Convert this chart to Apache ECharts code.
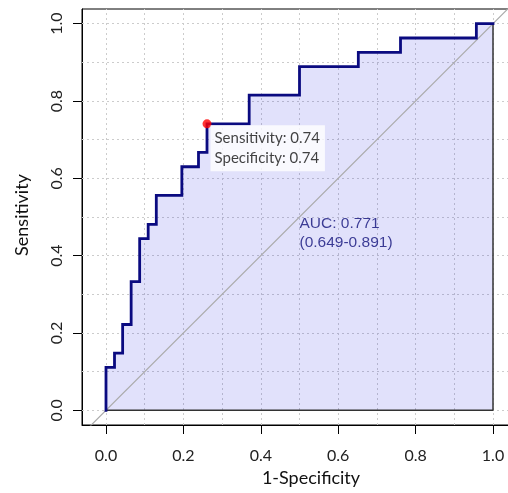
<!DOCTYPE html>
<html>
<head>
<meta charset="utf-8">
<script src="https://cdn.jsdelivr.net/npm/echarts@6/dist/echarts.min.js"></script>
<style>
  html, body { margin: 0; padding: 0; background: #fff; }
  #chart { width: 508px; height: 493px; }
</style>
</head>
<body>
<div id="chart"></div>
<script>
// ROC curve vertices (1 - specificity, sensitivity)
const fpr = [0, 0, 0.022, 0.022, 0.043, 0.043, 0.065, 0.065, 0.087, 0.087, 0.109, 0.109,
             0.130, 0.130, 0.196, 0.196, 0.239, 0.239, 0.261, 0.261, 0.370, 0.370,
             0.500, 0.500, 0.652, 0.652, 0.761, 0.761, 0.957, 0.957, 1];
const tpr = [0, 0.111, 0.111, 0.148, 0.148, 0.222, 0.222, 0.333, 0.333, 0.444, 0.444, 0.481,
             0.481, 0.556, 0.556, 0.630, 0.630, 0.667, 0.667, 0.741, 0.741, 0.815,
             0.815, 0.889, 0.889, 0.926, 0.926, 0.963, 0.963, 1, 1];

// Best threshold
const bestSens = 0.741;
const bestSpec = 0.739;

// AUC with confidence interval
const auc = 0.771;
const aucLow = 0.649;
const aucHigh = 0.891;

// Axis ticks and grid lines
const tickValues = [0, 0.2, 0.4, 0.6, 0.8, 1.0];
const gridValues = [0, 0.1, 0.2, 0.3, 0.4, 0.5, 0.6, 0.7, 0.8, 0.9, 1.0];

const chart = echarts.init(document.getElementById('chart'));

const rocPoints = fpr.map((x, i) => [x, tpr[i]]);
const labelFont = 'Lato, "Open Sans", sans-serif';

const gridLineStyle = { color: '#cccccc', width: 1, type: [2, 3] };
const gridMarks = gridValues.map(v => ({ xAxis: v }))
  .concat(gridValues.map(v => ({ yAxis: v })));

chart.setOption({
  animation: false,
  backgroundColor: '#ffffff',
  grid: {
    // plot region runs past the right edge of the canvas
    left: 82, top: 9, width: 435, height: 416,
    outerBoundsMode: 'none', containLabel: false,
    show: true, borderColor: '#000', borderWidth: 1, backgroundColor: 'transparent'
  },
  xAxis: {
    type: 'value', min: -0.062, max: 1.062,
    splitLine: { show: false },
    axisLine: { show: true, onZero: false, lineStyle: { color: '#000', width: 1 } },
    axisTick: { show: true, length: 9, customValues: tickValues, lineStyle: { color: '#000' } },
    axisLabel: {
      customValues: tickValues, margin: 23, fontSize: 16, color: '#222', fontFamily: labelFont,
      formatter: v => v.toFixed(1)
    }
  },
  yAxis: {
    type: 'value', min: -0.038, max: 1.038,
    splitLine: { show: false },
    axisLine: { show: true, onZero: false, lineStyle: { color: '#000', width: 1 } },
    axisTick: { show: true, length: 9, customValues: tickValues, lineStyle: { color: '#000' } },
    axisLabel: {
      customValues: tickValues, margin: 17, rotate: 90, fontSize: 16, color: '#222', fontFamily: labelFont,
      formatter: v => v.toFixed(1)
    }
  },
  graphic: [
    {
      type: 'text', x: 311, y: 478,
      style: { text: '1-Specificity', fontSize: 18, fontFamily: labelFont, fill: '#111',
               align: 'center', verticalAlign: 'middle' }
    },
    {
      type: 'text', x: 22, y: 215, rotation: Math.PI / 2,
      style: { text: 'Sensitivity', fontSize: 18, fontFamily: labelFont, fill: '#111',
               align: 'center', verticalAlign: 'middle' }
    }
  ],
  series: [
    {
      // dotted reference grid
      name: 'grid', type: 'line', data: [], z: 1, silent: true,
      markLine: {
        z: 1, silent: true, symbol: 'none', label: { show: false },
        lineStyle: gridLineStyle, data: gridMarks, animation: false
      }
    },
    {
      // shaded area under the curve
      name: 'auc area', type: 'line', data: rocPoints, z: 2, symbol: 'none', silent: true,
      lineStyle: { width: 0 },
      areaStyle: { color: 'rgba(0,0,225,0.17)', origin: 'auto' }
    },
    {
      // chance diagonal
      name: 'chance', type: 'line', data: [[-0.2, -0.2], [1.2, 1.2]], z: 3, symbol: 'none',
      silent: true, clip: true,
      lineStyle: { color: '#aaaaaa', width: 1.2 }
    },
    {
      // outline of the area polygon
      name: 'area border', type: 'line', data: [[0, 0], [1, 0], [1, 1]], z: 4, symbol: 'none',
      silent: true, lineStyle: { color: '#333333', width: 1.5, type: 'solid' }
    },
    {
      name: 'ROC', type: 'line', data: rocPoints, z: 5, symbol: 'none', silent: true,
      lineStyle: { color: '#0a0a80', width: 2.8, join: 'miter', cap: 'square' }
    },
    {
      name: 'best threshold', type: 'scatter', z: 6, silent: true,
      data: [[1 - bestSpec, bestSens]],
      symbol: 'circle', symbolSize: 9,
      itemStyle: { color: '#ff0000' },
      label: {
        show: true, position: [8, 6],
        formatter: () => 'Sensitivity: ' + bestSens.toFixed(2) + '\nSpecificity: ' + bestSpec.toFixed(2),
        backgroundColor: '#ffffff', padding: [3, 5, 3, 4],
        fontSize: 15, lineHeight: 20, color: '#111', fontFamily: labelFont,
        align: 'left', verticalAlign: 'top'
      }
    },
    {
      name: 'auc text', type: 'scatter', z: 6, silent: true,
      data: [[0.5, 0.5]], symbolSize: 0.001,
      label: {
        show: true, position: [0, -3],
        formatter: () => 'AUC: ' + auc.toFixed(3) + '\n(' + aucLow.toFixed(3) + '-' + aucHigh.toFixed(3) + ')',
        fontSize: 15.5, lineHeight: 19, color: '#10107a',
        fontFamily: '"Liberation Sans", Arial, sans-serif',
        align: 'left', verticalAlign: 'top'
      }
    }
  ]
});
</script>
</body>
</html>
